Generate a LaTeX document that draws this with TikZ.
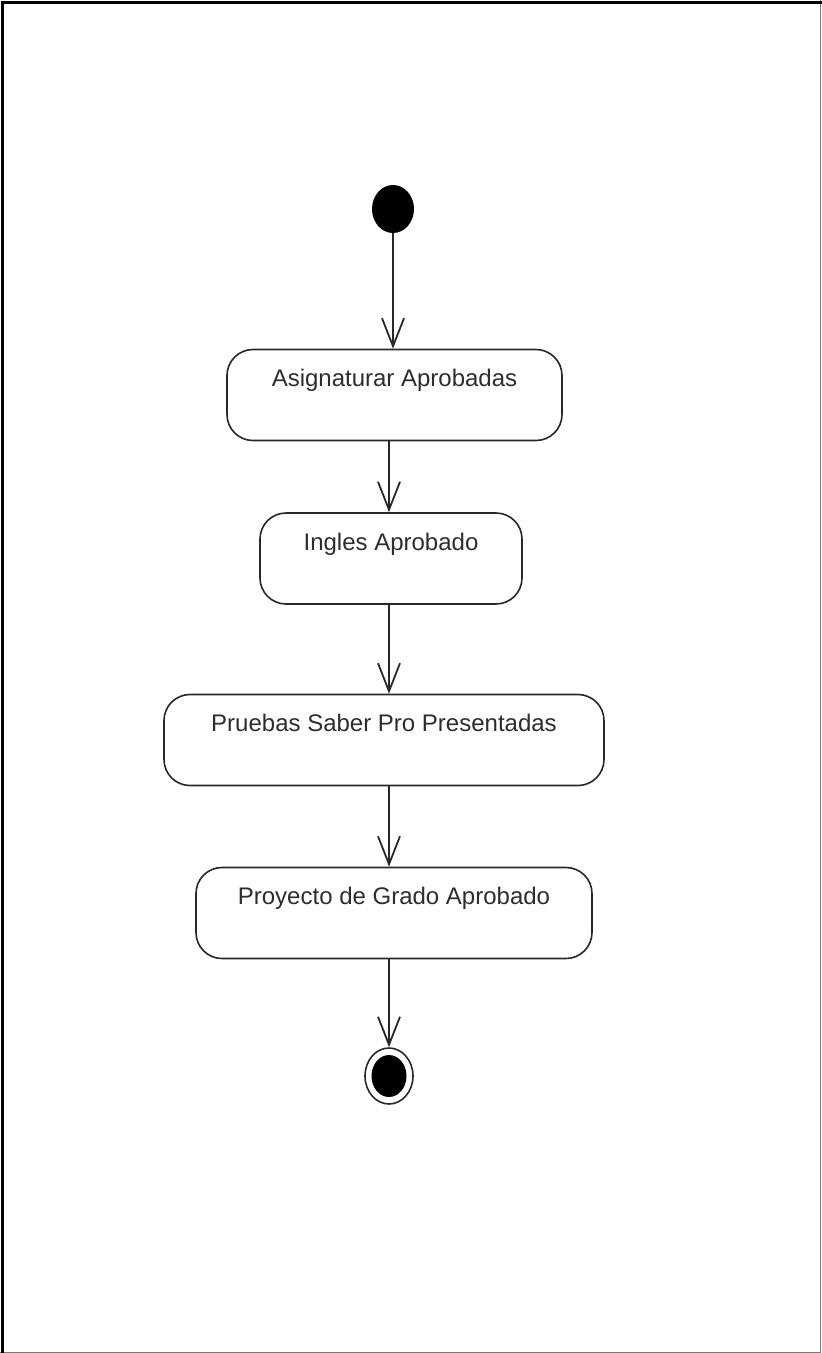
\documentclass[tikz,border=0pt]{standalone}
\usepackage{fontspec}
\setmainfont{Liberation Sans}
\usepackage{tikz}
\usetikzlibrary{arrows.meta,shapes.geometric,positioning}
\usepackage{xcolor}
\definecolor{umlline}{RGB}{40,40,40}
\definecolor{umltext}{RGB}{45,45,45}
\definecolor{umlframe}{RGB}{120,120,120}
\tikzstyle{flow} = [line width=1.8pt, draw=umlline, -{Straight Barb[length=28pt, width=22pt, line width=1.8pt]}]
\tikzstyle{activity} = [rectangle, rounded corners=26pt, draw=umlline, fill=white, line width=1.6pt, inner sep=0pt, text height=37pt, text depth=54pt, text=umltext, font=\fontsize{24}{28}\selectfont]
\tikzstyle{initial} = [ellipse, fill=black, minimum width=42pt, minimum height=48pt, inner sep=0pt]
\tikzstyle{finalring} = [ellipse, draw=umlline, fill=white, line width=1.6pt, minimum width=48pt, minimum height=56pt, inner sep=0pt]
\tikzstyle{finaldot} = [ellipse, fill=black, minimum width=35pt, minimum height=42pt, inner sep=0pt]

\begin{document}
\begin{tikzpicture}[x=1pt, y=-1pt]
    % Page and frame
    \fill[white] (0,0) rectangle (822,1353);
    \useasboundingbox (0,0) rectangle (822,1353);
    \draw[umlframe, line width=1.5pt] (820.5,0) -- (820.5,1352.25) -- (0,1352.25);
    \draw[black, line width=3pt] (2.5,1353) -- (2.5,2) -- (822,2);

    % Initial node
    \node[initial] (start) at (393, 209) {};

    % Activities
    \node[activity, minimum width=335pt] (asig) at (394.5, 395) {Asignaturar Aprobadas};
    \node[activity, minimum width=262pt] (ingles) at (391, 558.5) {Ingles Aprobado};
    \node[activity, minimum width=440pt] (saber) at (384, 740) {Pruebas Saber Pro Presentadas};
    \node[activity, minimum width=396pt] (grado) at (394, 913) {Proyecto de Grado Aprobado};

    % Final node
    \node[finalring] (fin) at (389, 1076) {};
    \node[finaldot] (findot) at (fin) {};

    % Transitions
    \draw[flow] (start) -- (start |- asig.north);
    \draw[flow] (asig.south -| fin) -- (ingles.north -| fin);
    \draw[flow] (ingles.south -| fin) -- (saber.north -| fin);
    \draw[flow] (saber.south -| fin) -- (grado.north -| fin);
    \draw[flow] (grado.south -| fin) -- (fin);
\end{tikzpicture}
\end{document}
